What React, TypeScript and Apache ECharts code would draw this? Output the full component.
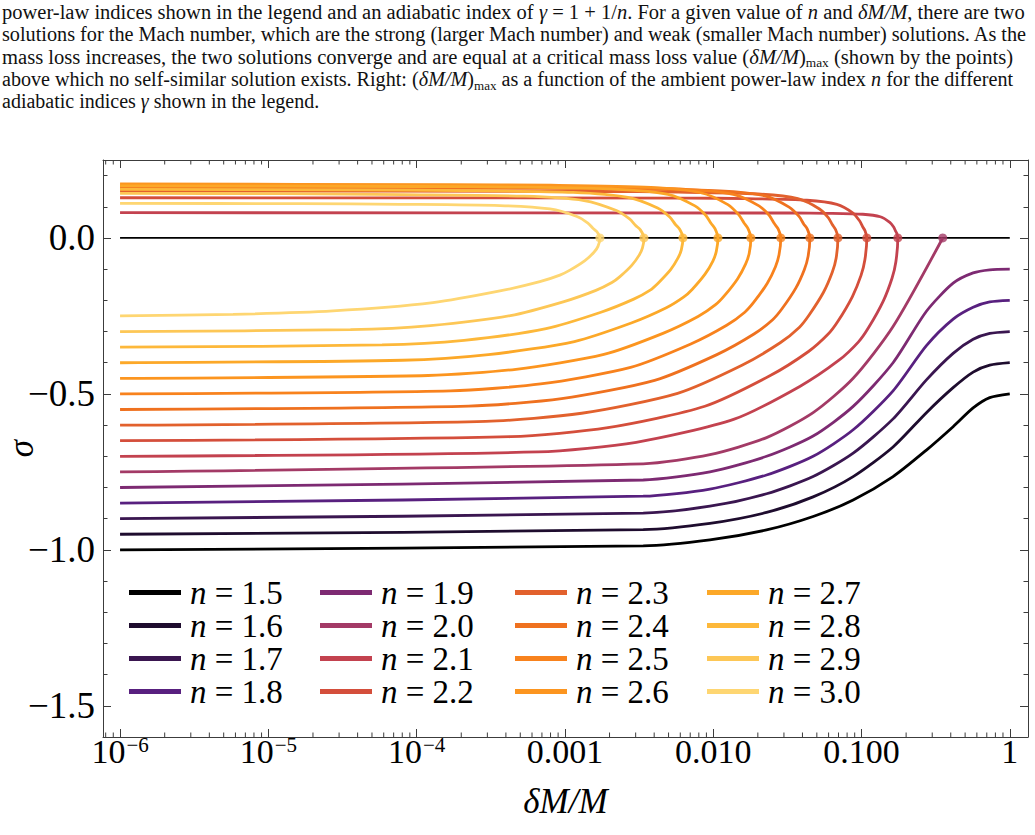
import React, { useEffect, useRef } from "react";
import * as echarts from "echarts";

// ---------- data ----------
const N_LABELS = ["1.5", "1.6", "1.7", "1.8", "1.9", "2.0", "2.1", "2.2", "2.3", "2.4", "2.5", "2.6", "2.7", "2.8", "2.9", "3.0"];
const COLORS = ["#000000", "#1e0c2e", "#3a1650", "#58207f", "#7d2a72", "#a33a66", "#c3424f", "#d44e3b", "#e2612d", "#ef711f", "#f8821d", "#fc951f", "#fca828", "#fdb83a", "#fdc756", "#fed672"];

// each curve: [log10(δM/M), σ] — lower (weak) branch, critical point, then upper (strong) branch
const CURVE_15 = [[-6, -1.0], [-2.472, -0.987], [-2.022, -0.968], [-1.64, -0.936], [-1.326, -0.893], [-1.056, -0.84], [-0.787, -0.765], [-0.562, -0.68], [-0.382, -0.605], [-0.247, -0.545], [-0.135, -0.512], [0, -0.5]];
const CURVE_16 = [[-6, -0.95], [-2.472, -0.935], [-2.022, -0.915], [-1.64, -0.88], [-1.326, -0.83], [-1.056, -0.765], [-0.787, -0.67], [-0.562, -0.56], [-0.382, -0.48], [-0.247, -0.43], [-0.135, -0.408], [0, -0.4]];
const CURVE_17 = [[-6, -0.9], [-2.472, -0.882], [-2.022, -0.86], [-1.64, -0.82], [-1.326, -0.765], [-1.056, -0.69], [-0.787, -0.58], [-0.562, -0.455], [-0.382, -0.37], [-0.247, -0.325], [-0.135, -0.306], [0, -0.3]];
const CURVE_18 = [[-6, -0.85], [-2.472, -0.828], [-2.022, -0.805], [-1.64, -0.76], [-1.326, -0.7], [-1.056, -0.615], [-0.787, -0.49], [-0.562, -0.345], [-0.382, -0.26], [-0.247, -0.222], [-0.135, -0.205], [0, -0.2]];
const CURVE_19 = [[-6, -0.8], [-2.472, -0.776], [-2.022, -0.75], [-1.64, -0.7], [-1.326, -0.635], [-1.056, -0.54], [-0.787, -0.4], [-0.562, -0.235], [-0.382, -0.145], [-0.247, -0.112], [-0.135, -0.102], [0, -0.1]];
const CURVE_20 = [[-6, -0.75], [-2.472, -0.724], [-2.022, -0.695], [-1.64, -0.64], [-1.326, -0.56], [-1.056, -0.45], [-0.787, -0.284], [-0.452, 0]];
const CURVE_21 = [[-6, -0.7], [-3.18, -0.686], [-2.519, -0.655], [-1.858, -0.581], [-1.416, -0.476], [-1.152, -0.392], [-1.02, -0.333], [-0.953, -0.288], [-0.854, -0.203], [-0.794, -0.129], [-0.768, -0.076], [-0.755, 0],
  [-0.762, 0.015], [-0.771, 0.023], [-0.783, 0.035], [-0.809, 0.05], [-0.873, 0.068], [-0.991, 0.076], [-1.227, 0.079], [-1.463, 0.08], [-6, 0.081]];
const CURVE_22 = [[-6, -0.65], [-3.364, -0.637], [-2.71, -0.608], [-2.056, -0.5395], [-1.618, -0.442], [-1.357, -0.364], [-1.226, -0.309], [-1.16, -0.268], [-1.062, -0.1885], [-1.003, -0.12], [-0.977, -0.07], [-0.964, 0],
  [-0.976, 0.023], [-0.992, 0.036], [-1.013, 0.055], [-1.057, 0.08], [-1.166, 0.108], [-1.368, 0.121], [-1.773, 0.126], [-2.177, 0.128], [-6, 0.129]];
const CURVE_23 = [[-6, -0.6], [-3.534, -0.588], [-2.887, -0.562], [-2.24, -0.498], [-1.806, -0.408], [-1.548, -0.336], [-1.418, -0.286], [-1.353, -0.247], [-1.256, -0.174], [-1.197, -0.11], [-1.171, -0.065], [-1.159, 0],
  [-1.175, 0.027], [-1.197, 0.043], [-1.224, 0.065], [-1.283, 0.093], [-1.429, 0.126], [-1.698, 0.141], [-2.237, 0.147], [-2.777, 0.149], [-6, 0.151]];
const CURVE_24 = [[-6, -0.55], [-3.649, -0.539], [-3.022, -0.515], [-2.395, -0.4565], [-1.975, -0.374], [-1.725, -0.308], [-1.599, -0.262], [-1.536, -0.227], [-1.442, -0.16], [-1.385, -0.101], [-1.36, -0.059], [-1.348, 0],
  [-1.366, 0.029], [-1.39, 0.045], [-1.421, 0.069], [-1.488, 0.099], [-1.651, 0.135], [-1.955, 0.151], [-2.561, 0.157], [-3.168, 0.159], [-6, 0.161]];
const CURVE_25 = [[-6, -0.5], [-3.771, -0.49], [-3.164, -0.468], [-2.557, -0.415], [-2.151, -0.34], [-1.909, -0.28], [-1.787, -0.238], [-1.726, -0.206], [-1.635, -0.145], [-1.58, -0.092], [-1.556, -0.054], [-1.544, 0],
  [-1.563, 0.03], [-1.589, 0.047], [-1.621, 0.072], [-1.691, 0.103], [-1.864, 0.14], [-2.184, 0.156], [-2.825, 0.163], [-3.465, 0.165], [-6, 0.167]];
const CURVE_26 = [[-6, -0.45], [-3.923, -0.441], [-3.33, -0.421], [-2.737, -0.3735], [-2.339, -0.306], [-2.102, -0.252], [-1.984, -0.214], [-1.924, -0.185], [-1.835, -0.1305], [-1.781, -0.083], [-1.757, -0.049], [-1.746, 0],
  [-1.766, 0.031], [-1.793, 0.049], [-1.827, 0.074], [-1.901, 0.107], [-2.083, 0.145], [-2.42, 0.162], [-3.094, 0.169], [-3.768, 0.171], [-6, 0.173]];
const CURVE_27 = [[-6, -0.4], [-4.096, -0.392], [-3.516, -0.374], [-2.936, -0.332], [-2.548, -0.272], [-2.316, -0.224], [-2.2, -0.19], [-2.142, -0.165], [-2.055, -0.116], [-2.002, -0.074], [-1.979, -0.043], [-1.968, 0],
  [-1.988, 0.03], [-2.015, 0.047], [-2.049, 0.072], [-2.123, 0.103], [-2.305, 0.14], [-2.642, 0.156], [-3.316, 0.163], [-3.99, 0.165], [-6, 0.167]];
const CURVE_28 = [[-6, -0.35], [-4.233, -0.343], [-3.68, -0.328], [-3.127, -0.2905], [-2.757, -0.238], [-2.536, -0.196], [-2.425, -0.167], [-2.37, -0.144], [-2.287, -0.1015], [-2.237, -0.064], [-2.215, -0.038], [-2.204, 0],
  [-2.226, 0.028], [-2.256, 0.044], [-2.293, 0.067], [-2.375, 0.096], [-2.575, 0.13], [-2.945, 0.146], [-3.687, 0.152], [-4.428, 0.154], [-6, 0.156]];
const CURVE_29 = [[-6, -0.3], [-4.446, -0.294], [-3.907, -0.281], [-3.368, -0.249], [-3.006, -0.204], [-2.791, -0.168], [-2.683, -0.143], [-2.629, -0.124], [-2.548, -0.087], [-2.499, -0.055], [-2.477, -0.032], [-2.467, 0],
  [-2.491, 0.026], [-2.523, 0.04], [-2.564, 0.061], [-2.653, 0.088], [-2.871, 0.12], [-3.276, 0.134], [-4.085, 0.139], [-4.893, 0.142], [-6, 0.143]];
const CURVE_30 = [[-6, -0.25], [-5.238, -0.245], [-4.564, -0.234], [-3.89, -0.2075], [-3.438, -0.17], [-3.169, -0.14], [-3.034, -0.119], [-2.966, -0.103], [-2.865, -0.0725], [-2.804, -0.046], [-2.777, -0.027], [-2.764, 0],
  [-2.784, 0.02], [-2.811, 0.031], [-2.845, 0.048], [-2.919, 0.069], [-3.101, 0.093], [-3.438, 0.104], [-4.112, 0.108], [-4.786, 0.11], [-6, 0.111]];
const CURVES = [CURVE_15, CURVE_16, CURVE_17, CURVE_18, CURVE_19, CURVE_20, CURVE_21, CURVE_22, CURVE_23, CURVE_24, CURVE_25, CURVE_26, CURVE_27, CURVE_28, CURVE_29, CURVE_30];

// critical points (δM/M)_max, log10, for n = 2.0 ... 3.0
const CRITICAL_LOG_X = [-0.452, -0.755, -0.964, -1.159, -1.348, -1.544, -1.746, -1.968, -2.204, -2.467, -2.764];

const X_TICK_LABELS: Record<string, string> = { "-6": "{b|10}{s|−6}", "-5": "{b|10}{s|−5}", "-4": "{b|10}{s|−4}", "-3": "0.001", "-2": "0.010", "-1": "0.100", "0": "1" };

const CAPTION_LINES = [
  "power-law indices shown in the legend and an adiabatic index of {i|γ} = 1 + 1/{i|n}. For a given value of {i|n} and {i|δM/M}, there are two",
  "solutions for the Mach number, which are the strong (larger Mach number) and weak (smaller Mach number) solutions. As the",
  "mass loss increases, the two solutions converge and are equal at a critical mass loss value ({i|δM/M}){sub|max} (shown by the points)",
  "above which no self-similar solution exists. Right: ({i|δM/M}){sub|max} as a function of the ambient power-law index {i|n} for the different",
  "adiabatic indices {i|γ} shown in the legend.",
];

// ---------- layout / style ----------
const FONT = "Liberation Serif";
const FRAME = "#3c3c3c";
const X_MIN = Math.pow(10, -6.115);
const X_MAX = Math.pow(10, 0.123);
const Y_MIN = -1.6;
const Y_MAX = 0.25;
const LEGEND_LEFT = [129, 320, 515, 707];
const CAPTION_Y = [12, 34.5, 57, 79.5, 101];
const CAPTION_FS = 20;

function buildOption() {
  const names = N_LABELS.map((n) => "n = " + n);

  const minorX: number[] = [8e-7, 9e-7];
  for (let e = -6; e <= -1; e++) for (let m = 2; m <= 9; m++) minorX.push(m * Math.pow(10, e));

  const ctx = document.createElement("canvas").getContext("2d")!;
  ctx.font = `${CAPTION_FS}px "${FONT}"`;
  const captionGraphics = CAPTION_LINES.map((line, i) => {
    const plain = line.replace(/\{\w+\|([^}]*)\}/g, "$1");
    const w = ctx.measureText(plain).width;
    const sx = i < 4 ? 1026 / w : 1;
    return {
      type: "text",
      x: 2,
      y: CAPTION_Y[i],
      scaleX: sx,
      style: {
        text: line,
        fontFamily: FONT,
        fontSize: CAPTION_FS,
        fill: "#111",
        verticalAlign: "middle",
        lineHeight: 24,
        rich: {
          i: { fontStyle: "italic", fontFamily: FONT, fontSize: CAPTION_FS, lineHeight: 24 },
          sub: { fontFamily: FONT, fontSize: 13, lineHeight: 11, verticalAlign: "bottom" },
        },
      },
    };
  });

  const lineSeries = CURVES.map((c, i) => ({
    type: "line",
    name: names[i],
    data: c.map(([lx, s]) => [Math.pow(10, lx), s]),
    symbol: "none",
    showSymbol: false,
    smooth: 0.25,
    lineStyle: { color: COLORS[i], width: 2.8 },
    itemStyle: { color: COLORS[i] },
    z: 3,
    silent: true,
  }));

  const tickStyle = { color: FRAME, width: 1 };

  const xCommon = {
    type: "log",
    logBase: 10,
    min: X_MIN,
    max: X_MAX,
    splitLine: { show: false },
    axisLine: { show: true, onZero: false, lineStyle: tickStyle },
    axisTick: { show: true, inside: true, length: 8, lineStyle: tickStyle },
  };
  const yCommon = {
    type: "value",
    min: Y_MIN,
    max: Y_MAX,
    splitNumber: 4,
    splitLine: { show: false },
    axisLine: { show: true, onZero: false, lineStyle: tickStyle },
    axisTick: { show: true, inside: true, length: 8, lineStyle: tickStyle },
    minorTick: { show: true, splitNumber: 5, length: 4.5, lineStyle: tickStyle },
  };

  return {
    animation: false,
    backgroundColor: "#fff",
    grid: { left: 103, right: 7, top: 160, bottom: 98, containLabel: false, outerBoundsMode: "none" },
    graphic: captionGraphics,
    legend: [0, 1, 2, 3].map((c) => ({
      data: names.slice(c * 4, c * 4 + 4),
      orient: "vertical",
      left: LEGEND_LEFT[c],
      top: 576,
      padding: 0,
      itemGap: 0,
      itemWidth: 52,
      itemHeight: 5,
      icon: "rect",
      selectedMode: false,
      formatter: (name: string) => name.replace(/^n/, "{i|n}"),
      textStyle: {
        fontFamily: FONT,
        fontSize: 33,
        lineHeight: 33,
        color: "#000",
        rich: { i: { fontFamily: FONT, fontSize: 33, lineHeight: 33, fontStyle: "italic", padding: [0, 0, 0, 4] } },
      },
    })),
    xAxis: [
      {
        ...xCommon,
        position: "bottom",
        name: "δM/M",
        nameLocation: "middle",
        nameGap: 47,
        nameMoveOverlap: false,
        nameTextStyle: { fontFamily: FONT, fontSize: 35, fontStyle: "italic", color: "#000" },
        axisLabel: {
          show: true,
          margin: -3,
          showMinLabel: false,
          showMaxLabel: false,
          color: "#000",
          fontFamily: FONT,
          fontSize: 34,
          lineHeight: 34,
          formatter: (v: number) => {
            const e = Math.round(Math.log10(v));
            if (Math.abs(Math.log10(v) - e) > 1e-6) return "";
            return X_TICK_LABELS[String(e)] ?? "";
          },
          rich: {
            b: { fontFamily: FONT, fontSize: 34, color: "#000", lineHeight: 34 },
            s: { fontFamily: FONT, fontSize: 21, color: "#000", lineHeight: 34, verticalAlign: "top", padding: [0, 0, 0, 1] },
          },
        },
      },
      { ...xCommon, position: "top", axisLabel: { show: false } },
    ],
    yAxis: [
      {
        ...yCommon,
        position: "left",
        name: "σ",
        nameLocation: "middle",
        nameGap: 64,
        nameMoveOverlap: false,
        nameRotate: 90,
        nameTextStyle: { fontFamily: FONT, fontSize: 35, lineHeight: 35, fontStyle: "italic", color: "#000" },
        axisLabel: {
          show: true,
          margin: 8,
          showMinLabel: false,
          showMaxLabel: false,
          color: "#000",
          fontFamily: FONT,
          fontSize: 37,
          formatter: (v: number) => {
            const r = Math.round(v * 2) / 2;
            if (Math.abs(v - r) > 1e-9) return "";
            return (r < 0 ? "−" : "") + Math.abs(r).toFixed(1);
          },
        },
      },
      { ...yCommon, position: "right", axisLabel: { show: false } },
    ],
    series: [
      {
        type: "line",
        name: "zero",
        data: [[1e-6, 0], [1, 0]],
        symbol: "none",
        lineStyle: { color: "#000", width: 1.8 },
        z: 2,
        silent: true,
      },
      ...lineSeries,
      {
        type: "scatter",
        name: "critical",
        data: CRITICAL_LOG_X.map((lx, i) => ({ value: [Math.pow(10, lx), 0], itemStyle: { color: COLORS[i + 5] } })),
        symbolSize: 9,
        z: 5,
        silent: true,
      },
      {
        type: "custom",
        name: "minorX",
        silent: true,
        clip: false,
        data: minorX.map((v) => [v, Y_MIN]),
        encode: { x: 0, y: 1 },
        renderItem: (_p: any, api: any) => {
          const v = api.value(0);
          const b = api.coord([v, Y_MIN]);
          const t = api.coord([v, Y_MAX]);
          return {
            type: "group",
            children: [
              { type: "line", shape: { x1: b[0], y1: b[1], x2: b[0], y2: b[1] - 4.5 }, style: { stroke: FRAME, lineWidth: 1 } },
              { type: "line", shape: { x1: t[0], y1: t[1], x2: t[0], y2: t[1] + 4.5 }, style: { stroke: FRAME, lineWidth: 1 } },
            ],
          };
        },
        z: 1,
      },
    ],
  };
}

export default function App() {
  const ref = useRef<HTMLDivElement>(null);
  useEffect(() => {
    if (!ref.current) return;
    const chart = echarts.init(ref.current, null, { renderer: "svg" });
    chart.setOption(buildOption() as any);
    return () => chart.dispose();
  }, []);
  return <div ref={ref} style={{ position: "absolute", left: 0, top: 0, width: 1035, height: 835, background: "#fff" }} />;
}
